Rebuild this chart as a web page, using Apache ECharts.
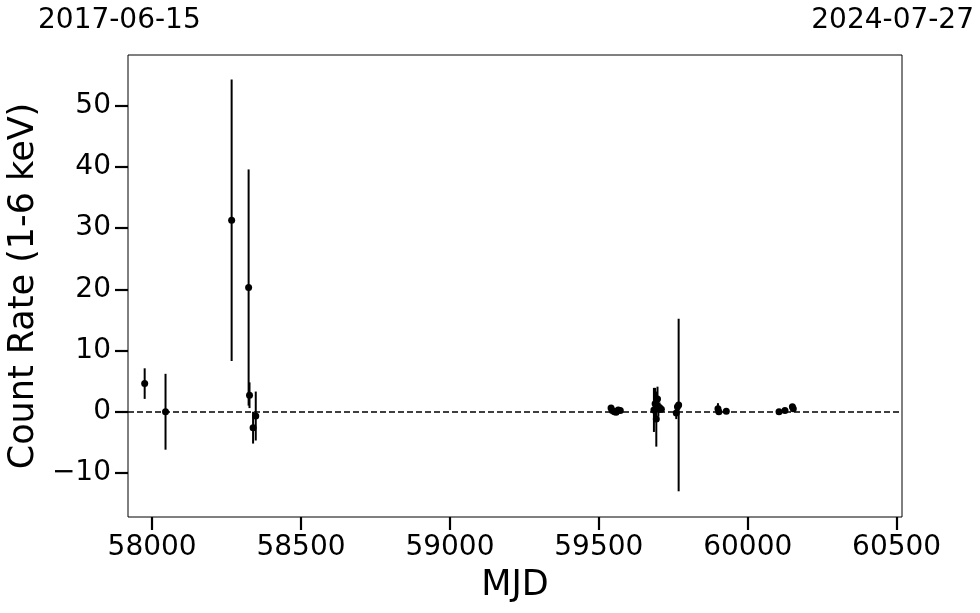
<!DOCTYPE html>
<html><head><meta charset="utf-8">
<script src="https://cdn.jsdelivr.net/npm/echarts@6/dist/echarts.min.js"></script>
<style>html,body{margin:0;padding:0;background:#fff}#c{width:980px;height:613px}</style>
</head><body><div id="c"></div>
<script>
const mjd  = [57975,58045,58267,58324,58327,58339,58348,59541,59545,59552,59558,59565,59572,59685,59689,59693,59697,59700,59704,59710,59760,59764,59768,59900,59903,59928,60105,60125,60150,60153];
const rate = [4.6,0.0,31.3,20.3,2.7,-2.6,-0.7,0.6,0.2,0.0,-0.1,0.3,0.2,0.3,1.3,-1.2,2.1,0.4,0.7,0.4,-0.2,0.8,1.1,0.5,0.0,0.1,0.0,0.2,0.8,0.5];
const err  = [2.5,6.2,23.0,19.3,2.1,2.6,4.0,0.3,0.3,0.2,0.3,0.2,0.2,3.6,2.6,4.5,2.0,1.2,0.8,0.5,1.0,0.6,14.1,0.9,0.5,0.3,0.2,0.2,0.3,0.2];
const xTicks = [58000,58500,59000,59500,60000,60500];
const yTicks = [-10,0,10,20,30,40,50];
const dateLeft = '2017-06-15', dateRight = '2024-07-27';

const pts = mjd.map((m,i)=>[m, rate[i], err[i]]);
const FONT = 'DejaVu Sans';
const chart = echarts.init(document.getElementById('c'), null, {renderer:'canvas'});
chart.setOption({
  animation:false,
  backgroundColor:'#fff',
  grid:{left:128,right:78,top:55,bottom:96,show:true,borderColor:'#000',borderWidth:1,
    containLabel:false,outerBoundsMode:'none'},
  xAxis:{type:'value',min:57919,max:60518,
    name:'MJD',nameLocation:'middle',nameGap:51,
    nameTextStyle:{fontFamily:FONT,fontSize:35,color:'#000'},
    axisLine:{show:false,onZero:false},splitLine:{show:false},
    axisTick:{show:true,length:13,lineStyle:{color:'#000',width:2.2},customValues:xTicks},
    axisLabel:{fontFamily:FONT,fontSize:28,color:'#000',margin:17,customValues:xTicks,formatter:v=>String(v)}},
  yAxis:{type:'value',min:-17.2,max:58.3,
    name:'Count Rate (1-6 keV)',nameLocation:'middle',nameGap:74,
    nameTextStyle:{fontFamily:FONT,fontSize:35,color:'#000'},
    axisLine:{show:false,onZero:false},splitLine:{show:false},
    axisTick:{show:true,length:13,lineStyle:{color:'#000',width:2.2},customValues:yTicks},
    axisLabel:{fontFamily:FONT,fontSize:28,color:'#000',margin:17,customValues:yTicks,
      formatter:v=>v<0?'\u2212'+Math.abs(v):String(v)}},
  graphic:[
    {type:'text',left:38,top:7,style:{text:dateLeft,font:'28px "DejaVu Sans"',fill:'#000'}},
    {type:'text',right:6,top:7,style:{text:dateRight,font:'28px "DejaVu Sans"',fill:'#000'}}
  ],
  series:[
    {type:'custom',data:pts,clip:true,
      renderItem:(params,api)=>{
        const x=api.value(0),y=api.value(1),e=api.value(2);
        const a=api.coord([x,y+e]),b=api.coord([x,y-e]);
        return {type:'line',shape:{x1:a[0],y1:a[1],x2:b[0],y2:b[1]},style:{stroke:'#000',lineWidth:2}};
      },
      markLine:{silent:true,symbol:'none',label:{show:false},
        lineStyle:{color:'#000',type:[6,3],width:1.5},data:[{yAxis:0}]}
    },
    {type:'scatter',data:pts.map(p=>[p[0],p[1]]),symbol:'circle',symbolSize:7,
      itemStyle:{color:'#000',opacity:1}}
  ]
});
</script></body></html>
